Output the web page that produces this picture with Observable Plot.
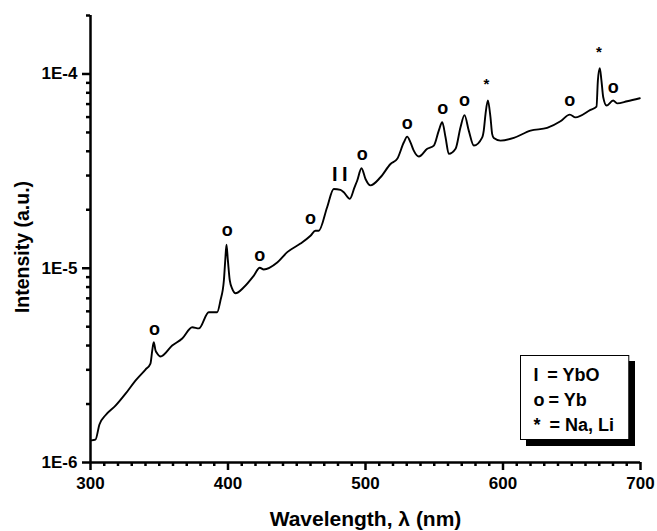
<!DOCTYPE html>
<html><head><meta charset="utf-8">
<script src="https://cdn.jsdelivr.net/npm/d3@7"></script>
<script src="https://cdn.jsdelivr.net/npm/@observablehq/plot@0.6"></script>
<style>body{margin:0;background:#fff}</style>
</head><body><div id="chart"></div>
<script>
// Spectrum (wavelength in nm, intensity in a.u.)
const wavelength = [300.7,303.6,306.5,310.9,318.2,325.5,332.7,340.0,343.6,344.9,346.0,347.3,348.5,350.9,359.4,366.7,374.0,378.8,386.0,392.1,394.5,397.0,398.0,398.9,399.9,401.3,403.1,405.5,411.5,418.8,423.1,426.0,435.8,443.1,452.7,460.0,463.6,466.0,472.1,476.9,481.8,484.2,488.6,492.0,494.0,497.1,500.0,503.6,510.9,518.2,523.1,527.9,530.3,532.7,535.1,538.8,544.9,549.7,553.3,555.8,558.2,560.6,565.5,569.1,572.0,575.1,578.8,584.9,586.0,587.3,589.0,590.9,592.1,593.3,598.2,607.9,620.0,632.1,641.8,648.6,652.7,663.6,668.0,669.0,670.4,671.6,672.9,675.3,680.1,683.0,690.3,699.5];
const intensity = [1.30e-6,1.31e-6,1.57e-6,1.75e-6,1.96e-6,2.26e-6,2.64e-6,3.01e-6,3.23e-6,3.77e-6,4.16e-6,3.77e-6,3.64e-6,3.51e-6,4.00e-6,4.35e-6,4.97e-6,4.90e-6,5.94e-6,5.94e-6,6.82e-6,8.65e-6,1.10e-5,1.32e-5,1.10e-5,8.65e-6,7.83e-6,7.43e-6,7.98e-6,9.17e-6,1.005e-5,9.85e-6,1.07e-5,1.21e-5,1.34e-5,1.47e-5,1.56e-5,1.56e-5,2.06e-5,2.56e-5,2.53e-5,2.46e-5,2.28e-5,2.61e-5,2.83e-5,3.27e-5,2.88e-5,2.67e-5,2.94e-5,3.44e-5,3.66e-5,4.45e-5,4.76e-5,4.45e-5,4.03e-5,3.76e-5,4.12e-5,4.28e-5,5.11e-5,5.64e-5,4.72e-5,3.88e-5,4.12e-5,5.32e-5,6.14e-5,5.11e-5,4.28e-5,4.72e-5,5.11e-5,6.23e-5,7.30e-5,5.98e-5,4.92e-5,4.68e-5,4.54e-5,4.69e-5,5.11e-5,5.28e-5,5.71e-5,6.18e-5,5.98e-5,6.53e-5,6.79e-5,9.25e-5,1.07e-4,9.25e-5,7.59e-5,6.88e-5,7.30e-5,7.06e-5,7.24e-5,7.50e-5];

// Line identifications
const ybX = [346.5,399.4,423.1,460.0,497.6,530.3,556.2,572.0,648.6,680.1];
const ybY = [4.88e-6,1.56e-5,1.17e-5,1.81e-5,3.85e-5,5.58e-5,6.66e-5,7.36e-5,7.30e-5,8.54e-5];
const ybOX = [477.7,484.9];
const ybOY = [3.04e-5,3.04e-5];
const naLiX = [588.0,669.7];
const naLiY = [9.25e-5,1.35e-4];

// Ticks
const xTicks = [300,400,500,600,700];
const xTicksMinor = d3.range(310,700,10).filter(d => d % 100 !== 0);
const yTicks = [1e-6,1e-5,1e-4];
const yTicksMinor = [2e-6,3e-6,4e-6,5e-6,6e-6,7e-6,8e-6,9e-6,2e-5,3e-5,4e-5,5e-5,6e-5,7e-5,8e-5,9e-5,2e-4];

const xLabel = "Wavelength, λ (nm)";
const yLabel = "Intensity (a.u.)";
const legendSymbols = ["I","o","*"];
const legendLabels = ["= YbO","= Yb","= Na, Li"];

const FONT = "Liberation Sans, Arial, Helvetica, sans-serif";
const spectrum = wavelength.map((w,i) => ({w, v: intensity[i]}));
const pts = (xs, ys) => xs.map((x,i) => ({x, y: ys[i]}));

const W = 657, H = 531, ML = 90, MR = 17, MT = 15, MB = 69;
const FW = W - ML - MR, FH = H - MT - MB;
const legendDx = [-93.3,-92,-91];
const T = {fontFamily: FONT, fontWeight: "bold"};

const plot = Plot.plot({
  width: W, height: H,
  marginLeft: ML, marginRight: MR, marginTop: MT, marginBottom: MB,
  x: {domain: [300,700]},
  y: {type: "log", domain: [1e-6, 2e-4]},
  marks: [
    // outward tick marks as rules
    Plot.ruleX(xTicksMinor, {x: d => d, insetTop: FH, insetBottom: -4, strokeWidth: 2.5}),
    Plot.ruleX(xTicks, {x: d => d, insetTop: FH, insetBottom: -8, strokeWidth: 2.5}),
    Plot.ruleY(yTicksMinor, {y: d => d, insetRight: FW, insetLeft: -4, strokeWidth: 2.5}),
    Plot.ruleY(yTicks, {y: d => d, insetRight: FW, insetLeft: -8, strokeWidth: 2.5}),
    // tick labels
    Plot.axisX({ticks: xTicks, tickSize: 8, tickPadding: 6, fontSize: 17, ...T, tickFormat: d => String(d), label: null}),
    Plot.axisY({ticks: yTicks, tickSize: 8, tickPadding: 5, fontSize: 17, ...T, tickFormat: d => "1E" + Math.round(Math.log10(d)), label: null}),
    // axis lines
    Plot.ruleX([300], {strokeWidth: 2.5}),
    Plot.ruleY([1e-6], {strokeWidth: 2.5}),
    // spectrum
    Plot.line(spectrum, {x: "w", y: "v", curve: "monotone-x", strokeWidth: 1.9, stroke: "black"}),
    // identifications
    Plot.text(pts(ybX, ybY), {x: "x", y: "y", text: () => "o", fontSize: 18, ...T, lineAnchor: "middle"}),
    Plot.text(pts(ybOX, ybOY), {x: "x", y: "y", text: () => "I", fontSize: 20, ...T, lineAnchor: "middle"}),
    Plot.text(pts(naLiX, naLiY), {x: "x", y: "y", text: () => "*", fontSize: 15, ...T, lineAnchor: "middle", dy: 4}),
    // axis titles
    Plot.text([xLabel], {text: d => d, frameAnchor: "bottom", dy: 63, lineAnchor: "bottom", fontSize: 21, ...T}),
    Plot.text([yLabel], {text: d => d, frameAnchor: "left", rotate: -90, dx: -68, dy: 8, lineAnchor: "middle", textAnchor: "middle", fontSize: 19.5, ...T}),
    // legend box with shadow
    Plot.frame({fill: "black", stroke: "black", strokeWidth: 1, insetLeft: 436, insetRight: 6, insetTop: 346, insetBottom: 17}),
    Plot.frame({fill: "white", stroke: "black", strokeWidth: 1, insetLeft: 430, insetRight: 11.7, insetTop: 340, insetBottom: 23}),
    ...legendSymbols.map((s,i) => Plot.text([s], {text: d => d, frameAnchor: "bottom-right", dx: -107, dy: -82 + 25*i, textAnchor: "start", lineAnchor: "bottom", fontSize: 18, ...T})),
    ...legendLabels.map((s,i) => Plot.text([s], {text: d => d, frameAnchor: "bottom-right", dx: legendDx[i], dy: -82 + 25*i, textAnchor: "start", lineAnchor: "bottom", fontSize: 18, ...T}))
  ]
});
document.getElementById("chart").appendChild(plot);
</script>
</body></html>
